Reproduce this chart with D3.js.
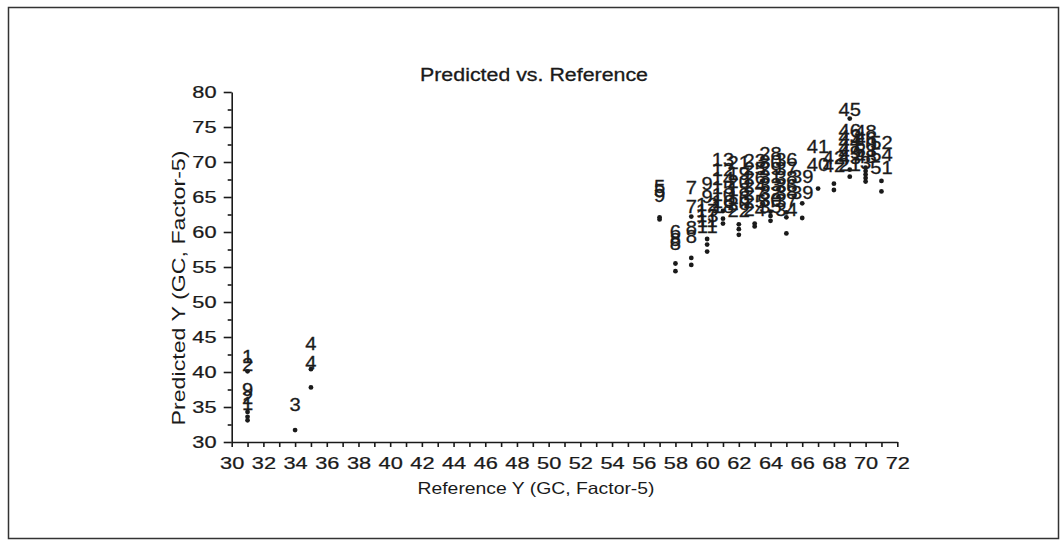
<!DOCTYPE html>
<html>
<head>
<meta charset="utf-8">
<script src="https://cdn.jsdelivr.net/npm/d3@7"></script>
<style>
  body { margin: 0; background: #fff; }
  text { font-family: "Liberation Sans", Arial, sans-serif; fill: #1a1a1a; }
</style>
</head>
<body>
<div id="chart"></div>
<script>
// sample labels (reference value, predicted value, sample id)
var labRef = [31,31,31,31,31, 34, 35,35,
  57,57,57, 58,58,58, 59,59,59,59,
  60,60,60,60,60,60,60,
  61,61,61,61,61,61,61,
  62,62,62,62,62,62,62,
  63,63,63,63,63,63,63,
  64,64,64,64,64,64,64,64,
  65,65,65,65,65,65,65,
  66,66, 67,67, 68,68,
  69,69,69,69,69,69,69,69,
  70,70,70,70,70,70,
  71,71,71];
var labPred = [42.2,41.0,37.5,36.4,35.5, 35.4, 44.1,41.3,
  66.5,65.9,65.2, 60.0,58.9,58.3, 66.3,63.7,60.6,59.3,
  66.9,65.1,63.9,63.1,62.4,61.6,60.8,
  70.3,68.9,67.6,66.4,65.3,64.4,63.6,
  69.9,68.4,67.2,66.0,64.9,64.0,63.0,
  70.2,69.0,67.8,66.6,65.5,64.4,63.2,
  71.2,70.1,69.0,67.9,66.8,65.7,64.6,63.6,
  70.3,69.0,67.8,66.7,65.6,64.5,63.2,
  67.9,65.6, 72.2,69.7, 70.6,69.5,
  77.5,74.5,73.7,72.9,72.1,71.3,70.6,69.6,
  74.3,73.4,72.5,71.6,70.8,69.9,
  72.8,71.0,69.2];
var labText = ["1","2","9","2","1", "3", "4","4",
  "5","5","9", "6","8","8", "7","7","8","8",
  "9","9","12","17","13","11","11",
  "13","12","14","15","10","16","18",
  "21","19","20","18","16","20","22",
  "23","25","26","24","27","25","24",
  "28","30","29","31","33","32","30","35",
  "36","37","38","36","38","37","34",
  "39","39", "41","40", "42","42",
  "45","46","43","44","47","49","43","21",
  "48","46","50","53","48","3",
  "52","54","51"];

// measured points
var dotRef = [31,31,31,31, 34, 35,35,
  57,57, 58,58, 59,59,59, 60,60,60,
  61,61,61, 62,62,62, 63,63, 64,64,64,
  65,65,65, 66,66, 67, 68,68,
  69,69,69, 70,70,70,70,70, 71,71];
var dotPred = [40.1,34.3,33.6,33.1, 31.7, 40.4,37.8,
  62.1,61.8, 55.5,54.4, 62.2,56.3,55.3, 59.0,58.2,57.2,
  63.0,61.9,61.2, 61.1,60.4,59.6, 61.2,60.8, 62.9,62.3,61.6,
  62.8,62.1,59.8, 64.1,62.0, 66.2, 66.9,66.0,
  76.2,68.9,67.9, 69.2,68.7,68.2,67.7,67.2, 67.3,65.8];

var xTicks = d3.range(30, 73, 1);
var yTicks = d3.range(30, 80.1, 2.5);

var W = 1063, H = 544;
var svg = d3.select("#chart").append("svg")
  .attr("width", W).attr("height", H);

// outer frame
svg.append("rect")
  .attr("x", 8.5).attr("y", 7.5)
  .attr("width", 1050).attr("height", 531)
  .attr("fill", "none").attr("stroke", "#333").attr("stroke-width", 1.5);

var x = d3.scaleLinear().domain([30, 72]).range([231.7, 897.3]);
var y = d3.scaleLinear().domain([30, 80]).range([442, 92]);

// x axis
var gx = svg.append("g")
  .attr("transform", "translate(0,442)")
  .call(d3.axisBottom(x).tickValues(xTicks).tickSize(5).tickSizeOuter(0).tickPadding(10)
    .tickFormat(function(d) { return d % 2 === 0 ? d : ""; }));
gx.selectAll("text").attr("font-size", 16.5).attr("transform", "scale(1.32,1)");

// y axis
var gy = svg.append("g")
  .attr("transform", "translate(231.7,0)")
  .call(d3.axisLeft(y).tickValues(yTicks).tickSize(8).tickSizeOuter(0).tickPadding(7)
    .tickFormat(function(d) { return d % 5 === 0 ? d : ""; }));
gy.selectAll(".tick line").attr("x2", function(d) { return d % 5 === 0 ? -8 : -4; });
gy.selectAll("text").attr("font-size", 16.5).attr("x", -11.5).attr("transform", "scale(1.32,1)");

svg.selectAll(".domain, .tick line").attr("stroke", "#1a1a1a").attr("stroke-width", 1.6);
svg.selectAll(".tick text").attr("fill", "#1a1a1a").attr("font-family", "Liberation Sans, Arial, sans-serif")
  .attr("stroke", "#1a1a1a").attr("stroke-width", 0.25);

// title and axis titles
svg.append("text")
  .attr("x", 534).attr("y", 80.5)
  .attr("text-anchor", "middle").attr("font-size", 18)
  .attr("textLength", 228).attr("lengthAdjust", "spacingAndGlyphs")
  .attr("stroke", "#1a1a1a").attr("stroke-width", 0.3)
  .text("Predicted vs. Reference");

svg.append("text")
  .attr("x", 536).attr("y", 494)
  .attr("text-anchor", "middle").attr("font-size", 16.5)
  .attr("textLength", 237).attr("lengthAdjust", "spacingAndGlyphs")
  .attr("fill", "#333")
  .text("Reference Y (GC, Factor-5)");

svg.append("text")
  .attr("transform", "translate(185,288) rotate(-90)")
  .attr("text-anchor", "middle").attr("font-size", 19)
  .attr("textLength", 275).attr("lengthAdjust", "spacingAndGlyphs")
  .attr("fill", "#333")
  .text("Predicted Y (GC, Factor-5)");

// points
svg.selectAll(".dot")
  .data(dotRef)
  .enter().append("circle")
  .attr("class", "dot")
  .attr("cx", function(d) { return x(d); })
  .attr("cy", function(d, i) { return y(dotPred[i]); })
  .attr("r", 2.4)
  .attr("fill", "#1a1a1a");

// sample labels
svg.selectAll(".lab")
  .data(labRef)
  .enter().append("text")
  .attr("class", "lab")
  .attr("transform", function(d, i) { return "translate(" + x(d) + "," + y(labPred[i]) + ") scale(1.12,1)"; })
  .attr("text-anchor", "middle")
  .attr("dy", "0.36em")
  .attr("font-size", 18)
  .attr("fill", "#222")
  .attr("stroke", "#222").attr("stroke-width", 0.3)
  .text(function(d, i) { return labText[i]; });
</script>
</body>
</html>
